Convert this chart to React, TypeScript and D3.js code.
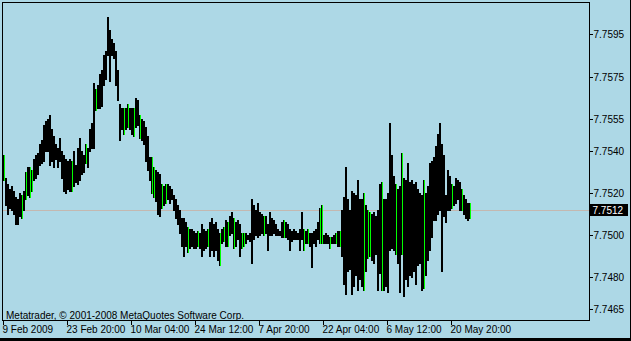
import React from "react";
import * as d3 from "d3";

// Bar data (H4 bars grouped by 2), prices for USD/HKD style quote
const highs: number[] = [
  7.7538,7.7527,7.7524,7.7522,7.7523,7.7521,7.7518,7.7517,7.7520,7.7519,
  7.7521,7.7530,7.7532,7.7532,7.7531,7.7536,7.7538,7.7539,7.7543,7.7545,
  7.7552,7.7554,7.7555,7.7557,7.7550,7.7547,7.7543,7.7541,7.7546,7.7540,
  7.7538,7.7536,7.7535,7.7536,7.7535,7.7540,7.7533,7.7541,7.7546,7.7540,
  7.7538,7.7543,7.7541,7.7550,7.7553,7.7572,7.7569,7.7571,7.7576,7.7578,
  7.7585,7.7587,7.7603,7.7597,7.7593,7.7591,7.7587,7.7578,7.7562,7.7560,
  7.7560,7.7560,7.7562,7.7560,7.7560,7.7560,7.7565,7.7564,7.7557,7.7555,
  7.7554,7.7551,7.7547,7.7537,7.7537,7.7532,7.7531,7.7530,7.7529,7.7524,
  7.7523,7.7524,7.7524,7.7523,7.7522,7.7519,7.7517,7.7514,7.7512,7.7508,
  7.7508,7.7506,7.7504,7.7503,7.7503,7.7502,7.7501,7.7502,7.7501,7.7505,
  7.7503,7.7502,7.7503,7.7506,7.7508,7.7505,7.7506,7.7503,7.7501,7.7503,
  7.7504,7.7507,7.7506,7.7509,7.7511,7.7508,7.7506,7.7507,7.7505,7.7501,
  7.7501,7.7501,7.7500,7.7501,7.7517,7.7514,7.7512,7.7515,7.7511,7.7510,
  7.7509,7.7509,7.7505,7.7511,7.7508,7.7507,7.7505,7.7503,7.7502,7.7506,
  7.7507,7.7506,7.7505,7.7503,7.7502,7.7503,7.7502,7.7501,7.7503,7.7511,
  7.7503,7.7502,7.7503,7.7501,7.7501,7.7502,7.7503,7.7506,7.7513,7.7514,
  7.7500,7.7501,7.7500,7.7499,7.7499,7.7500,7.7501,7.7502,7.7502,7.7512,
  7.7518,7.7532,7.7517,7.7512,7.7521,7.7520,7.7519,7.7526,7.7517,7.7517,
  7.7520,7.7514,7.7512,7.7511,7.7510,7.7511,7.7509,7.7512,7.7524,7.7525,
  7.7517,7.7517,7.7520,7.7553,7.7538,7.7528,7.7524,7.7522,7.7523,7.7539,
  7.7527,7.7526,7.7534,7.7525,7.7526,7.7524,7.7525,7.7522,7.7520,7.7519,
  7.7526,7.7520,7.7523,7.7534,7.7535,7.7537,7.7542,7.7548,7.7553,7.7543,
  7.7538,7.7519,7.7531,7.7528,7.7524,7.7523,7.7527,7.7526,7.7525,7.7522,
  7.7519,7.7517,7.7515,7.7515,
];
const lows: number[] = [
  7.7526,7.7514,7.7510,7.7513,7.7512,7.7510,7.7505,7.7505,7.7509,7.7508,
  7.7512,7.7517,7.7519,7.7518,7.7521,7.7526,7.7527,7.7529,7.7533,7.7534,
  7.7535,7.7540,7.7540,7.7533,7.7535,7.7532,7.7536,7.7532,7.7535,7.7527,
  7.7521,7.7520,7.7522,7.7521,7.7521,7.7523,7.7525,7.7524,7.7526,7.7529,
  7.7530,7.7534,7.7532,7.7540,7.7541,7.7541,7.7559,7.7560,7.7560,7.7561,
  7.7571,7.7574,7.7585,7.7573,7.7585,7.7584,7.7571,7.7564,7.7545,7.7550,
  7.7548,7.7550,7.7551,7.7550,7.7548,7.7547,7.7551,7.7552,7.7546,7.7545,
  7.7543,7.7535,7.7531,7.7526,7.7520,7.7518,7.7516,7.7510,7.7509,7.7513,
  7.7514,7.7515,7.7517,7.7515,7.7517,7.7512,7.7508,7.7505,7.7501,7.7495,
  7.7490,7.7495,7.7492,7.7494,7.7495,7.7494,7.7494,7.7495,7.7494,7.7490,
  7.7493,7.7494,7.7495,7.7490,7.7493,7.7490,7.7493,7.7488,7.7486,7.7496,
  7.7497,7.7495,7.7495,7.7500,7.7501,7.7494,7.7495,7.7498,7.7490,7.7494,
  7.7495,7.7496,7.7498,7.7497,7.7487,7.7498,7.7500,7.7499,7.7500,7.7501,
  7.7500,7.7501,7.7493,7.7500,7.7500,7.7501,7.7500,7.7500,7.7500,7.7499,
  7.7499,7.7499,7.7498,7.7493,7.7497,7.7498,7.7498,7.7498,7.7493,7.7498,
  7.7493,7.7496,7.7496,7.7495,7.7485,7.7496,7.7495,7.7498,7.7496,7.7496,
  7.7496,7.7496,7.7496,7.7494,7.7496,7.7496,7.7496,7.7495,7.7495,7.7490,
  7.7477,7.7472,7.7483,7.7484,7.7472,7.7476,7.7481,7.7474,7.7479,7.7476,
  7.7474,7.7483,7.7489,7.7490,7.7488,7.7487,7.7491,7.7474,7.7482,7.7474,
  7.7474,7.7476,7.7473,7.7493,7.7494,7.7493,7.7491,7.7487,7.7473,7.7491,
  7.7471,7.7479,7.7476,7.7481,7.7480,7.7483,7.7477,7.7486,7.7487,7.7474,
  7.7475,7.7481,7.7488,7.7493,7.7499,7.7507,7.7507,7.7510,7.7512,7.7483,
  7.7509,7.7506,7.7512,7.7512,7.7513,7.7514,7.7515,7.7517,7.7512,7.7512,
  7.7510,7.7508,7.7507,7.7508,
];
const greenBars: number[] = [
  0, 9, 11, 13, 14, 34, 41, 46, 60, 62, 65, 68, 74, 75, 79, 81, 92, 97, 102,
  108, 110, 112, 115, 119, 120, 130, 140, 150, 152, 158, 159, 163, 166, 168,
  180, 182, 183, 189, 196, 199, 210, 224, 229, 233,
];
const priceTicks: number[] = [7.7465, 7.748, 7.75, 7.752, 7.754, 7.7555, 7.7575, 7.7595];
const timeLabels: string[] = [
  "9 Feb 2009", "23 Feb 20:00", "10 Mar 04:00", "24 Mar 12:00",
  "7 Apr 20:00", "22 Apr 04:00", "6 May 12:00", "20 May 20:00",
];
const barsPerLabel = 32;
const currentPrice = 7.7512;
const copyright = "Metatrader, © 2001-2008 MetaQuotes Software Corp.";

const W = 631;
const H = 341;
const BG = "#add8e6";
const FONT = "'Liberation Sans', Arial, sans-serif";

export default function App() {
  const n = highs.length;
  const x = d3.scaleLinear().domain([0, n - 1]).range([3, 3 + 2 * (n - 1)]);
  const y = d3.scaleLinear().domain([7.7465, 7.7595]).range([309, 34.3]);
  const greenSet = new Set(greenBars);
  const py = Math.round(y(currentPrice));

  return (
    <svg
      width={W}
      height={H}
      style={{ position: "fixed", left: 0, top: 0, display: "block" }}
      shapeRendering="crispEdges"
    >
      <rect x={0} y={0} width={W} height={H} fill={BG} />
      {/* current price line */}
      <line x1={3} x2={589} y1={py + 0.5} y2={py + 0.5} stroke="#c4b8b0" strokeWidth={1} />
      {/* bars */}
      <g>
        {highs.map((h, i) => {
          const y0 = Math.round(y(h));
          const y1 = Math.round(y(lows[i]));
          const xi = Math.round(x(i));
          return (
            <g key={i}>
              <rect x={xi} y={y0} width={2} height={y1 - y0 + 1} fill="#000" />
              {greenSet.has(i) && (
                <rect x={xi + 1} y={y0} width={1} height={y1 - y0 + 1} fill="#00ff00" />
              )}
            </g>
          );
        })}
      </g>
      {/* frame */}
      <rect x={2.5} y={2.5} width={587} height={318} fill="none" stroke="#000" strokeWidth={1} />
      {/* right axis */}
      {priceTicks.map((t) => {
        const ty = Math.round(y(t));
        return (
          <g key={t}>
            <line x1={589} x2={593} y1={ty + 0.5} y2={ty + 0.5} stroke="#000" />
            <text x={593.5} y={ty + 4} fontFamily={FONT} fontSize={10} fill="#000">
              {t.toFixed(4)}
            </text>
          </g>
        );
      })}
      {/* current price label */}
      <rect x={590} y={py - 6} width={38} height={12} fill="#000" />
      <text x={592.5} y={py + 4} fontFamily={FONT} fontSize={10} fill="#fff">
        {currentPrice.toFixed(4)}
      </text>
      {/* bottom axis */}
      {timeLabels.map((lab, k) => {
        const tx = Math.round(x(k * barsPerLabel));
        return (
          <g key={lab}>
            <line x1={tx + 0.5} x2={tx + 0.5} y1={320} y2={325} stroke="#000" />
            <text x={tx - 0.5} y={333} fontFamily={FONT} fontSize={10} fill="#000">
              {lab}
            </text>
          </g>
        );
      })}
      <text x={6} y={319} fontFamily={FONT} fontSize={10} fill="#000">
        {copyright}
      </text>
      {/* window edges */}
      <rect x={630} y={0} width={1} height={H} fill="#000" />
      <rect x={0} y={338} width={W} height={3} fill="#000" />
    </svg>
  );
}
